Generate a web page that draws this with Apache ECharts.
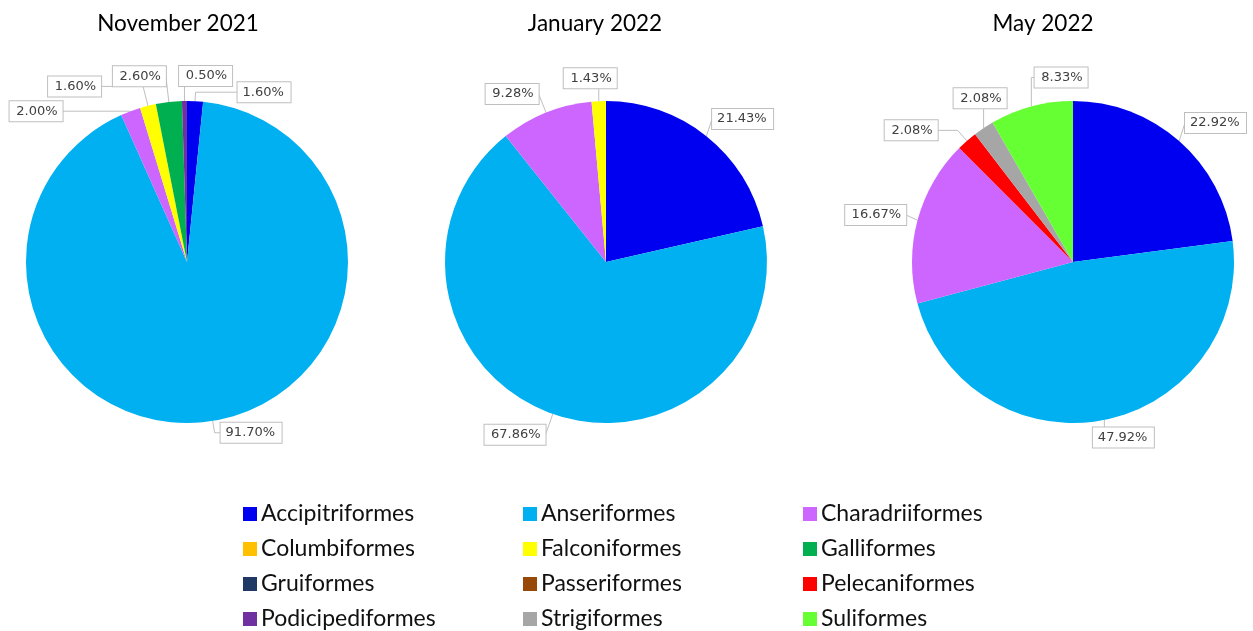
<!DOCTYPE html>
<html>
<head>
<meta charset="utf-8">
<script src="https://cdn.jsdelivr.net/npm/echarts@6/dist/echarts.min.js"></script>
<style>
  html, body { margin: 0; padding: 0; background: #ffffff; }
  #chart { width: 1253px; height: 631px; }
</style>
</head>
<body>
<div id="chart"></div>
<script>
// Bird orders, in the order the slices run clockwise from 12 o'clock
const orders = [
  'Accipitriformes', 'Anseriformes', 'Charadriiformes',
  'Columbiformes', 'Falconiformes', 'Galliformes',
  'Gruiformes', 'Passeriformes', 'Pelecaniformes',
  'Podicipediformes', 'Strigiformes', 'Suliformes'
];
const orderColors = [
  '#0000f0', '#00b0f0', '#cc66ff',
  '#ffc000', '#ffff00', '#00b050',
  '#203864', '#984807', '#ff0000',
  '#7030a0', '#a6a6a6', '#66ff33'
];

// Share of each order (%) per survey month
const monthTitles = ['November 2021', 'January 2022', 'May 2022'];
const nov2021 = [1.60, 91.70, 2.00, 0, 1.60, 2.60, 0, 0, 0, 0.50, 0, 0];
const jan2022 = [21.43, 67.86, 9.28, 0, 1.43, 0, 0, 0, 0, 0, 0, 0];
const may2022 = [22.92, 47.92, 16.67, 0, 0, 0, 0, 0, 2.08, 0, 2.08, 8.33];
const monthValues = [nov2021, jan2022, may2022];

// Layout of the three pies and the legend columns
const pieCenters = [[187, 262], [606, 262], [1073, 262]];
const titleCentersX = [173, 590, 1038];
const legendColumnsX = [243, 523, 803];

// Leader-line lengths [length, length2] for each callout, so the small
// slices near 12 o'clock fan their boxes out instead of stacking
const leaderLines = [
  { Accipitriformes: [9, 42], Anseriformes: [12, 6], Charadriiformes: [0, 68],
    Falconiformes: [20, 42], Galliformes: [26, 0], Podicipediformes: [25, -48] },
  { Accipitriformes: [22, -8], Anseriformes: [22, 0], Charadriiformes: [20, 0],
    Falconiformes: [23, -19] },
  { Accipitriformes: [24, -10], Anseriformes: [18, -15], Charadriiformes: [20, -8],
    Pelecaniformes: [14, 20], Strigiformes: [36, -43], Suliformes: [30, -64] }
];

const LABEL_FONT = '13px "DejaVu Sans"';
const measureCtx = document.createElement('canvas').getContext('2d');
measureCtx.font = LABEL_FONT;

function percentText(v) { return v.toFixed(2) + '%'; }

function pieData(values, leaders) {
  return orders.map(function (name, i) {
    const v = values[i];
    const item = { name: name, value: v, itemStyle: { color: orderColors[i] } };
    if (!v) {
      item.label = { show: false };
      item.labelLine = { show: false };
    } else {
      // fixed text width keeps the boxed labels from being cut near the edges
      item.label = { width: Math.ceil(measureCtx.measureText(percentText(v)).width) + 1 };
      const lead = leaders[name];
      if (lead) item.labelLine = { length: lead[0], length2: lead[1] };
    }
    return item;
  });
}

const chart = echarts.init(document.getElementById('chart'), null, { renderer: 'canvas' });

const option = {
  backgroundColor: '#ffffff',
  animation: false,
  title: monthTitles.map(function (t, k) {
    return {
      text: t,
      left: titleCentersX[k],
      top: 7,
      textAlign: 'center',
      textStyle: { fontFamily: 'Lato', fontSize: 22.5, fontWeight: 'normal', color: '#000000' }
    };
  }),
  legend: [0, 1, 2].map(function (c) {
    return {
      data: orders.filter(function (_, i) { return i % 3 === c; }),
      orient: 'vertical',
      left: legendColumnsX[c],
      top: 502,
      height: 140,
      padding: 0,
      icon: 'rect',
      itemWidth: 14,
      itemHeight: 14,
      itemGap: 11,
      selectedMode: false,
      textStyle: { fontFamily: 'Lato', fontSize: 23, lineHeight: 24, color: '#111111', padding: [0, 0, 0, -1] }
    };
  }),
  series: monthValues.map(function (vals, k) {
    return {
      type: 'pie',
      name: monthTitles[k],
      center: pieCenters[k],
      radius: 161,
      startAngle: 90,
      clockwise: true,
      avoidLabelOverlap: false,
      labelLayout: { hideOverlap: false },
      silent: true,
      itemStyle: { borderWidth: 0 },
      label: {
        show: true,
        position: 'outside',
        formatter: function (p) { return percentText(p.value); },
        fontFamily: 'DejaVu Sans',
        fontSize: 13,
        color: '#404040',
        backgroundColor: '#ffffff',
        borderColor: '#bfbfbf',
        borderWidth: 1,
        padding: [4, 5, 3, 5],
        distanceToLabelLine: 0,
        overflow: 'none'
      },
      labelLine: {
        show: true,
        length: 14,
        length2: 4,
        lineStyle: { color: '#bfbfbf', width: 1 }
      },
      data: pieData(vals, leaderLines[k])
    };
  })
};

chart.setOption(option);
</script>
</body>
</html>
